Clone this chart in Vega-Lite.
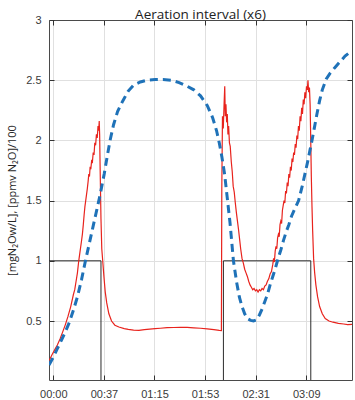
{
  "$schema": "https://vega.github.io/schema/vega-lite/v6.json",
  "width": 303,
  "height": 360,
  "autosize": "none",
  "padding": {"left": 49, "top": 20, "right": 3, "bottom": 20},
  "background": "white",
  "title": {"text": "Aeration interval (x6)", "font": "Open Sans", "fontSize": 13.5, "fontWeight": "normal", "color": "#222222", "offset": 2, "dy": 9},
  "config": {
    "view": {"stroke": null},
    "axis": {"labelFont": "Liberation Sans", "labelFontSize": 11, "labelColor": "#3a3a3a", "domainColor": "#4a4a4a", "tickColor": "#333333", "tickWidth": 1, "gridColor": "#e0e0e0", "titleFont": "Open Sans", "titleFontWeight": "normal", "titleColor": "#262626"}
  },
  "datasets": {
    "aer": [
      {"t": -3.24, "v": 1}, {"t": 35.6, "v": 1}, {"t": 35.6, "v": 0}, {"t": 127.1, "v": 0},
      {"t": 127.1, "v": 1}, {"t": 192.4, "v": 1}, {"t": 192.4, "v": 0}, {"t": 223.2, "v": 0}
    ],
    "liq": [
      {"t": -3.2, "v": 0.17}, {"t": -1, "v": 0.22}, {"t": 1, "v": 0.26}, {"t": 3, "v": 0.3}, {"t": 5, "v": 0.35},
      {"t": 7, "v": 0.41}, {"t": 9, "v": 0.47}, {"t": 11, "v": 0.54}, {"t": 13, "v": 0.62}, {"t": 15, "v": 0.72},
      {"t": 16, "v": 0.76}, {"t": 17, "v": 0.83}, {"t": 18, "v": 0.9}, {"t": 19, "v": 1.0}, {"t": 20, "v": 1.08},
      {"t": 21, "v": 1.16}, {"t": 21.7, "v": 1.22}, {"t": 22.4, "v": 1.3}, {"t": 23, "v": 1.38}, {"t": 23.6, "v": 1.45},
      {"t": 24.2, "v": 1.5}, {"t": 24.8, "v": 1.55}, {"t": 25.4, "v": 1.6}, {"t": 26, "v": 1.66}, {"t": 26.5, "v": 1.72},
      {"t": 27, "v": 1.7}, {"t": 27.5, "v": 1.78}, {"t": 28, "v": 1.76}, {"t": 28.6, "v": 1.83}, {"t": 29.2, "v": 1.82},
      {"t": 29.8, "v": 1.9}, {"t": 30.4, "v": 1.88}, {"t": 31, "v": 1.98}, {"t": 31.6, "v": 1.96}, {"t": 32.2, "v": 2.05},
      {"t": 32.8, "v": 2.02}, {"t": 33.4, "v": 2.12}, {"t": 33.9, "v": 2.08}, {"t": 34.3, "v": 2.16}, {"t": 34.6, "v": 2.05},
      {"t": 35.0, "v": 1.75}, {"t": 35.6, "v": 1.35}, {"t": 36.2, "v": 1.1}, {"t": 36.9, "v": 1.0}, {"t": 37.8, "v": 0.87},
      {"t": 38.8, "v": 0.74}, {"t": 39.9, "v": 0.65}, {"t": 41.5, "v": 0.56}, {"t": 43.5, "v": 0.5}, {"t": 46, "v": 0.465},
      {"t": 49, "v": 0.45}, {"t": 53, "v": 0.437}, {"t": 56, "v": 0.43}, {"t": 60, "v": 0.425}, {"t": 64, "v": 0.422},
      {"t": 68, "v": 0.428}, {"t": 72, "v": 0.432}, {"t": 76, "v": 0.436}, {"t": 80, "v": 0.44}, {"t": 85, "v": 0.445},
      {"t": 90, "v": 0.446}, {"t": 95, "v": 0.447}, {"t": 100, "v": 0.447}, {"t": 105, "v": 0.443}, {"t": 110, "v": 0.44},
      {"t": 115, "v": 0.435}, {"t": 120, "v": 0.428}, {"t": 124, "v": 0.422}, {"t": 125.6, "v": 0.42}, {"t": 125.9, "v": 1.6},
      {"t": 126.4, "v": 2.2}, {"t": 127, "v": 2.1}, {"t": 127.6, "v": 2.3}, {"t": 128.1, "v": 2.45}, {"t": 128.5, "v": 2.2},
      {"t": 129, "v": 2.3}, {"t": 129.5, "v": 2.15}, {"t": 130, "v": 2.22}, {"t": 130.5, "v": 2.05}, {"t": 131, "v": 2.12},
      {"t": 131.6, "v": 1.98}, {"t": 132.2, "v": 1.95}, {"t": 133, "v": 1.82}, {"t": 133.7, "v": 1.74}, {"t": 134.4, "v": 1.62},
      {"t": 135.2, "v": 1.57}, {"t": 136, "v": 1.48}, {"t": 136.8, "v": 1.4}, {"t": 137.6, "v": 1.33}, {"t": 138.4, "v": 1.26},
      {"t": 139.2, "v": 1.18}, {"t": 140, "v": 1.1}, {"t": 141, "v": 1.02}, {"t": 142, "v": 0.98}, {"t": 143, "v": 0.93},
      {"t": 144, "v": 0.9}, {"t": 145, "v": 0.87}, {"t": 146, "v": 0.83}, {"t": 147, "v": 0.8}, {"t": 148, "v": 0.78},
      {"t": 149, "v": 0.76}, {"t": 150, "v": 0.77}, {"t": 151, "v": 0.75}, {"t": 152, "v": 0.76}, {"t": 153, "v": 0.74},
      {"t": 154, "v": 0.76}, {"t": 155, "v": 0.75}, {"t": 156, "v": 0.77}, {"t": 157, "v": 0.76}, {"t": 158, "v": 0.79},
      {"t": 159, "v": 0.8}, {"t": 160, "v": 0.83}, {"t": 161, "v": 0.85}, {"t": 162, "v": 0.89}, {"t": 163, "v": 0.91},
      {"t": 164, "v": 0.97}, {"t": 164.6, "v": 1.02}, {"t": 165.2, "v": 0.99}, {"t": 165.8, "v": 1.08}, {"t": 166.4, "v": 1.12},
      {"t": 167, "v": 1.1}, {"t": 167.6, "v": 1.19}, {"t": 168.2, "v": 1.22}, {"t": 168.8, "v": 1.2}, {"t": 169.4, "v": 1.3},
      {"t": 170, "v": 1.33}, {"t": 170.6, "v": 1.31}, {"t": 171.2, "v": 1.42}, {"t": 171.8, "v": 1.46}, {"t": 172.4, "v": 1.5},
      {"t": 173, "v": 1.48}, {"t": 173.6, "v": 1.58}, {"t": 174.2, "v": 1.56}, {"t": 174.8, "v": 1.65}, {"t": 175.4, "v": 1.62},
      {"t": 176, "v": 1.72}, {"t": 176.6, "v": 1.69}, {"t": 177.2, "v": 1.78}, {"t": 177.8, "v": 1.75}, {"t": 178.4, "v": 1.85},
      {"t": 179, "v": 1.82}, {"t": 179.6, "v": 1.9}, {"t": 180.2, "v": 1.88}, {"t": 180.8, "v": 1.97}, {"t": 181.4, "v": 1.94},
      {"t": 182, "v": 2.04}, {"t": 182.6, "v": 2.01}, {"t": 183.2, "v": 2.12}, {"t": 183.8, "v": 2.08}, {"t": 184.4, "v": 2.2},
      {"t": 185, "v": 2.16}, {"t": 185.6, "v": 2.27}, {"t": 186.2, "v": 2.22}, {"t": 186.8, "v": 2.34}, {"t": 187.4, "v": 2.3},
      {"t": 188, "v": 2.4}, {"t": 188.6, "v": 2.35}, {"t": 189.2, "v": 2.45}, {"t": 189.8, "v": 2.42}, {"t": 190.3, "v": 2.5},
      {"t": 190.8, "v": 2.4}, {"t": 191.4, "v": 2.44}, {"t": 191.9, "v": 2.3}, {"t": 192.3, "v": 2.05}, {"t": 192.8, "v": 1.7},
      {"t": 193.3, "v": 1.45}, {"t": 193.8, "v": 1.25}, {"t": 194.5, "v": 1.02}, {"t": 195.3, "v": 0.9}, {"t": 196.2, "v": 0.8},
      {"t": 197.5, "v": 0.7}, {"t": 199, "v": 0.62}, {"t": 201, "v": 0.56}, {"t": 203.2, "v": 0.52}, {"t": 206, "v": 0.5},
      {"t": 209, "v": 0.49}, {"t": 213, "v": 0.48}, {"t": 217, "v": 0.475}, {"t": 220, "v": 0.47}, {"t": 223.2, "v": 0.472}
    ],
    "gas": [
      {"t": -3.24, "v": 0.135}, {"t": 0, "v": 0.2}, {"t": 3, "v": 0.27}, {"t": 6, "v": 0.34}, {"t": 9, "v": 0.41},
      {"t": 12, "v": 0.49}, {"t": 15, "v": 0.59}, {"t": 18, "v": 0.7}, {"t": 21, "v": 0.84}, {"t": 24, "v": 1.0},
      {"t": 27, "v": 1.15}, {"t": 30, "v": 1.3}, {"t": 33, "v": 1.45}, {"t": 35, "v": 1.55}, {"t": 38, "v": 1.72},
      {"t": 40, "v": 1.85}, {"t": 42.4, "v": 2.0}, {"t": 45, "v": 2.13}, {"t": 48, "v": 2.24}, {"t": 52, "v": 2.33},
      {"t": 56, "v": 2.41}, {"t": 60, "v": 2.46}, {"t": 65, "v": 2.485}, {"t": 70, "v": 2.5}, {"t": 76, "v": 2.505},
      {"t": 82, "v": 2.505}, {"t": 88, "v": 2.5}, {"t": 94, "v": 2.48}, {"t": 100, "v": 2.45}, {"t": 105, "v": 2.42},
      {"t": 110, "v": 2.37}, {"t": 115, "v": 2.29}, {"t": 119, "v": 2.19}, {"t": 122, "v": 2.08}, {"t": 124, "v": 1.98},
      {"t": 126, "v": 1.86}, {"t": 128, "v": 1.72}, {"t": 130, "v": 1.52}, {"t": 132, "v": 1.32}, {"t": 134.6, "v": 1.0},
      {"t": 137, "v": 0.82}, {"t": 139, "v": 0.7}, {"t": 141, "v": 0.62}, {"t": 143, "v": 0.56}, {"t": 145, "v": 0.52},
      {"t": 147.5, "v": 0.505}, {"t": 149.6, "v": 0.5}, {"t": 152, "v": 0.51}, {"t": 154, "v": 0.55}, {"t": 156, "v": 0.6},
      {"t": 158, "v": 0.66}, {"t": 160, "v": 0.72}, {"t": 162, "v": 0.8}, {"t": 164, "v": 0.87}, {"t": 166, "v": 0.94},
      {"t": 168, "v": 1.02}, {"t": 170, "v": 1.09}, {"t": 172, "v": 1.17}, {"t": 174, "v": 1.24}, {"t": 176, "v": 1.3},
      {"t": 178, "v": 1.37}, {"t": 180, "v": 1.42}, {"t": 183.3, "v": 1.5}, {"t": 186, "v": 1.62}, {"t": 188, "v": 1.72},
      {"t": 190, "v": 1.82}, {"t": 192, "v": 1.93}, {"t": 193.3, "v": 2.0}, {"t": 195, "v": 2.1}, {"t": 197, "v": 2.22},
      {"t": 199, "v": 2.33}, {"t": 201, "v": 2.42}, {"t": 204, "v": 2.51}, {"t": 207, "v": 2.56}, {"t": 210, "v": 2.6},
      {"t": 214, "v": 2.65}, {"t": 218, "v": 2.7}, {"t": 223.2, "v": 2.745}
    ]
  },
  "layer": [
    {
      "data": {"name": "aer"},
      "mark": {"type": "line", "color": "#2b2b2b", "strokeWidth": 1, "clip": true},
      "encoding": {
        "x": {"field": "t", "type": "quantitative", "scale": {"domain": [-3.24, 223.2], "nice": false, "zero": false},
          "axis": {"orient": "bottom", "title": null, "values": [0, 37.8, 75.6, 113.4, 151.2, 189], "grid": true, "tickSize": -5, "labelPadding": 13,
            "labelExpr": "(floor(datum.value/60)<10?'0':'') + floor(datum.value/60) + ':' + (floor(datum.value%60)<10?'0':'') + floor(datum.value%60)"}},
        "y": {"field": "v", "type": "quantitative", "scale": {"domain": [0.01, 3], "nice": false, "zero": false},
          "axis": {"orient": "left", "title": "[mgN₂Ow/L], [ppmv N₂O]/100", "titleFontSize": 11, "titlePadding": 8, "values": [0.5, 1, 1.5, 2, 2.5, 3], "format": "~g", "grid": true, "tickSize": -5, "labelPadding": 13}}
      }
    },
    {
      "data": {"name": "liq"},
      "mark": {"type": "line", "color": "#e8231d", "strokeWidth": 1.2, "clip": true},
      "encoding": {
        "x": {"field": "t", "type": "quantitative", "axis": {"orient": "top", "title": null, "labels": false, "grid": false, "values": [0, 37.8, 75.6, 113.4, 151.2, 189], "tickSize": -5}},
        "y": {"field": "v", "type": "quantitative", "axis": {"orient": "right", "title": null, "labels": false, "grid": false, "values": [0.5, 1, 1.5, 2, 2.5, 3], "tickSize": -5}}
      }
    },
    {
      "data": {"name": "gas"},
      "mark": {"type": "line", "color": "#1f72b8", "strokeWidth": 3, "strokeDash": [8, 5], "clip": true},
      "encoding": {
        "x": {"field": "t", "type": "quantitative", "axis": null},
        "y": {"field": "v", "type": "quantitative", "axis": null}
      }
    }
  ],
  "resolve": {"axis": {"x": "independent", "y": "independent"}}
}
